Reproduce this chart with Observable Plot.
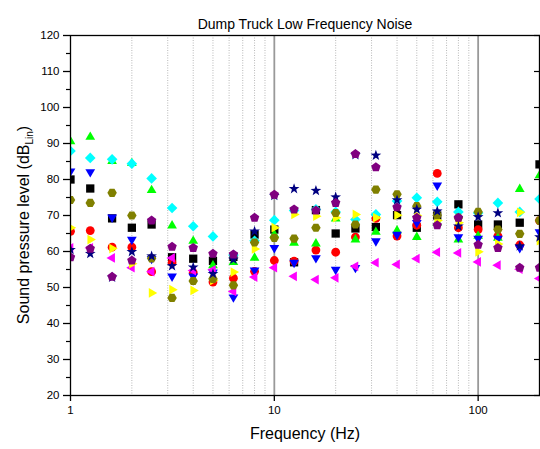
<!DOCTYPE html>
<html><head><meta charset="utf-8">
<script src="https://cdn.jsdelivr.net/npm/d3@7"></script>
<script src="https://cdn.jsdelivr.net/npm/@observablehq/plot@0.6"></script>
<style>body{margin:0;background:#fff}#chart{width:540px;height:449px}</style>
</head><body><div id="chart"></div>
<script>
const title = "Dump Truck Low Frequency Noise";
const xLabel = "Frequency (Hz)";
const freqs = [1, 1.25, 1.6, 2, 2.5, 3.15, 4, 5, 6.3, 8, 10, 12.5, 16, 20, 25, 31.5, 40, 50, 63, 80, 100, 125, 160, 200];
const blackSq   = [80, 77.5, 69.2, 66.6, 67.5, 58.4, 58, 57.4, 58.5, 64.7, 66.1, 57, 71.5, 65, 66.4, 66.8, 70.1, 66.6, 70, 73.1, 67.5, 67.5, 68, 84.2];
const redCirc   = [65.6, 65.8, 61.2, 61.2, 54.4, 56.9, 54.1, 51.5, 52.6, 54.5, 57.5, 57.3, 60.4, 59.8, 64, 69.2, 64.3, 67.3, 81.7, 66.6, 66.1, 64.3, 61.8, 68.6];
const greenUp   = [90.6, 91.8, 85.1, 84.5, 77, 67.2, 62.9, 56.1, 57, 58.2, 64.7, 62.4, 62.2, 69.1, 63.3, 65.4, 65.8, 64, 68, 63.3, 64.3, 63.8, 77.3, 81.1];
const blueDown  = [82.3, 82.1, 69.5, 63.3, 58, 53.1, 53.1, 54.2, 47.3, 54.8, 61, 56.9, 58.2, 55, 55.5, 62.9, 64.7, 68, 78.4, 64, 63.6, 63.6, 61, 65.4];
const cyanDiam  = [87.9, 86, 85.6, 84.4, 80.3, 72.1, 67, 64.2, 59, 63, 68.7, 71.4, 71.7, 71, 68.9, 70.3, 74, 74.9, 73.8, 71, 70.7, 73.5, 71, 74.6];
const magLeft   = [61, 61, 58.2, 55.5, 54.4, 58.2, 54.7, 54.9, 48.9, 52.9, 55.5, 53.1, 52.2, 52.7, 55.9, 56.9, 56.4, 58, 59.8, 59.6, 57.1, 56.2, 55.1, 52.5];
const yelRight  = [66.6, 63.3, 60.8, 56.6, 48.5, 49.4, 49.2, 52, 54.3, 60.7, 66.6, 70.3, 69.8, 69.4, 70.3, 69.4, 70.1, 70, 68.6, 68, 59.9, 62.1, 70.9, 63];
const oliveHex  = [74.3, 73.5, 76.3, 70, 58.1, 47.1, 51.8, 52.4, 50.6, 62.5, 63.8, 63.6, 66.6, 70.7, 67.5, 77.2, 75.9, 72.6, 70.1, 69.4, 71, 66.1, 64.9, 68.6];
const navyStar  = [60.5, 59.4, 52.8, 59.9, 58.7, 56, 55.6, 53.8, 57.8, 65.6, 75.5, 77.4, 76.9, 75.1, 86.8, 86.7, 74.3, 71.7, 71.2, 67, 69.6, 70.7, 61.5, 64];
const purplePent= [58.4, 60.8, 53, 57.5, 68.6, 61.3, 61, 59.4, 59.2, 69.4, 75.8, 71.7, 71.4, 73.5, 87.1, 83.4, 72.3, 69.4, 67.3, 69.4, 61.9, 61, 55.5, 55.5];
const yTicks = [20, 30, 40, 50, 60, 70, 80, 90, 100, 110, 120];
const yMinor = [25, 35, 45, 55, 65, 75, 85, 95, 105, 115];
const xTicks = [1, 10, 100];
const xMinor = [2, 3, 4, 5, 6, 7, 8, 9, 20, 30, 40, 50, 60, 70, 80, 90];
const xMajorGrid = [10, 100];

function poly(ctx, k, R, startDeg, n, inner) {
  const pts = [];
  const m = inner ? n * 2 : n;
  for (let i = 0; i < m; i++) {
    const a = (startDeg + i * 360 / m) * Math.PI / 180;
    const rr = inner && i % 2 === 1 ? inner * k : R * k;
    pts.push([rr * Math.cos(a), rr * Math.sin(a)]);
  }
  ctx.moveTo(pts[0][0], pts[0][1]);
  for (let i = 1; i < pts.length; i++) ctx.lineTo(pts[i][0], pts[i][1]);
  ctx.closePath();
}
const K = s => Math.sqrt(s / Math.PI);
const sym = {
  square:   {draw(c, s){ const h = 0.92 * K(s); c.moveTo(-h,-h); c.lineTo(h,-h); c.lineTo(h,h); c.lineTo(-h,h); c.closePath(); }},
  circle:   {draw(c, s){ const r = 0.98 * K(s); c.moveTo(r,0); c.arc(0,0,r,0,2*Math.PI); }},
  up:       {draw(c, s){ poly(c, K(s), 1.25, -90, 3); }},
  down:     {draw(c, s){ poly(c, K(s), 1.25, 90, 3); }},
  left:     {draw(c, s){ poly(c, K(s), 1.25, 180, 3); }},
  right:    {draw(c, s){ poly(c, K(s), 1.25, 0, 3); }},
  diamond:  {draw(c, s){ poly(c, K(s), 1.18, -90, 4); }},
  hexagon:  {draw(c, s){ poly(c, K(s), 1.05, 0, 6); }},
  star:     {draw(c, s){ poly(c, K(s), 1.25, -90, 5, 0.5); }},
  pentagon: {draw(c, s){ poly(c, K(s), 1.1, -90, 5); }}
};
const series = [
  {values: blackSq, color: "#000000", symbol: sym.square},
  {values: redCirc, color: "#ff0000", symbol: sym.circle},
  {values: greenUp, color: "#00ff00", symbol: sym.up},
  {values: blueDown, color: "#0000ff", symbol: sym.down},
  {values: cyanDiam, color: "#00ffff", symbol: sym.diamond},
  {values: magLeft, color: "#ff00ff", symbol: sym.left},
  {values: yelRight, color: "#ffff00", symbol: sym.right},
  {values: oliveHex, color: "#808000", symbol: sym.hexagon},
  {values: navyStar, color: "#000080", symbol: sym.star},
  {values: purplePent, color: "#800080", symbol: sym.pentagon}
];

const font = "'Liberation Sans', Arial, Helvetica, sans-serif";
const svg = Plot.plot({
  width: 540, height: 449,
  marginTop: 35, marginBottom: 54, marginLeft: 70, marginRight: 1,
  x: {type: "log", domain: [1, 200]},
  y: {domain: [20, 120]},
  style: {fontFamily: font, fontSize: "11.5px", color: "black", background: "white", overflow: "visible"},
  marks: [
    Plot.ruleX(xMinor, {x: d => d, stroke: "#b8b8b8", strokeDasharray: "1,1.5"}),
    Plot.ruleX(xMajorGrid, {x: d => d, stroke: "#999999", strokeWidth: 1.8}),
    ...series.map(s => Plot.dot(freqs, {x: d => d, y: (d, i) => s.values[i], symbol: s.symbol, fill: s.color, r: 4.5, clip: true})),
    Plot.frame({stroke: "black", strokeWidth: 1.3}),
    Plot.axisX(xTicks, {tickSize: 6, tickPadding: 4, tickFormat: d => String(d), label: null, strokeWidth: 1.3}),
    Plot.axisY(yTicks, {tickSize: 7, tickPadding: 4, tickFormat: d => String(d), label: null, strokeWidth: 1.3}),
    Plot.axisY(yMinor, {tickSize: 4, tickFormat: () => "", label: null, strokeWidth: 1.2}),
    Plot.axisY(yTicks, {anchor: "right", tickSize: -6, tickFormat: () => "", label: null, strokeWidth: 1.2}),
    Plot.text([title], {text: d => d, frameAnchor: "top", dy: -16, fontSize: 14}),
    Plot.text([xLabel], {text: d => d, frameAnchor: "bottom", dy: 43, fontSize: 16})
  ]
});
document.getElementById("chart").appendChild(svg);
const yl = d3.select(svg).append("text")
  .attr("transform", "translate(29,225) rotate(-90)")
  .attr("text-anchor", "middle")
  .attr("font-family", font)
  .attr("font-size", 16)
  .attr("fill", "black");
yl.append("tspan").text("Sound pressure level (dB");
yl.append("tspan").attr("font-size", 10).attr("dy", 4).text("Lin");
yl.append("tspan").attr("dy", -4).text(")");
</script></body></html>
